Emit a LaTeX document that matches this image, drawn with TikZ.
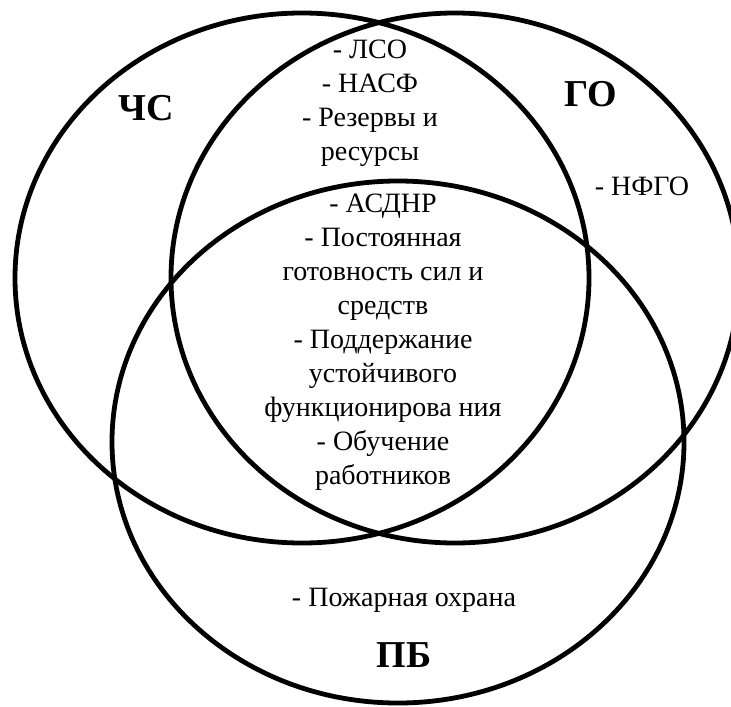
\documentclass[tikz,border=0pt]{standalone}
\usepackage{fontspec}
\setmainfont{Liberation Serif}

\begin{document}
\begin{tikzpicture}[x=0.5pt,y=-0.5pt]
    \useasboundingbox (0,0) rectangle (731,706);
    \clip (0,0) rectangle (731,706);

    % Sets:
    % Three ellipses, drawn directly with a thick line
    \begin{scope}[line width=2.4pt]
    \draw (302,278) ellipse [x radius=287, y radius=265];
    \draw (455,278) ellipse [x radius=284, y radius=265];
    \draw (398,442) ellipse [x radius=286, y radius=261];
    \end{scope}

    % Set names:
    \begin{scope}[font=\fontsize{19}{23}\selectfont\bfseries]
    \node (chs) at (146,108) {ЧС};
    \node (go)  at (591,94)  {ГО};
    \node (pb)  at (404,655) {ПБ};
    \end{scope}

    % Items of the sets and of their intersections:
    \begin{scope}[font=\fontsize{14}{17}\selectfont, align=center]
    \node (chsgo) at (370,103) {- ЛСО\\- НАСФ\\- Резервы и\\ресурсы};
    \node (all)   at (383,342) {- АСДНР\\- Постоянная\\готовность сил и\\средств\\- Поддержание\\устойчивого\\функционирова ния\\- Обучение\\работников};
    \node (nfgo)  at (642,186) {- НФГО};
    \node (fire)  at (404,600) {- Пожарная охрана};
    \end{scope}
\end{tikzpicture}
\end{document}
